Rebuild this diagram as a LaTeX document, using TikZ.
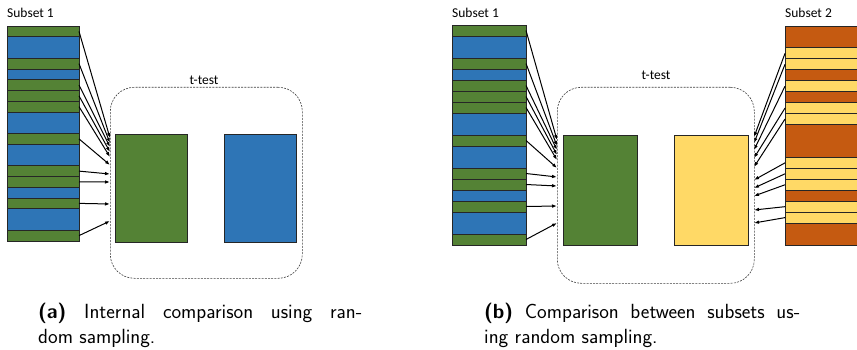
\documentclass[tikz,border=0pt]{standalone}
\usepackage{fontspec}
\usetikzlibrary{arrows.meta}
\newfontfamily\diagfont{Carlito}

\definecolor{bandgreen}{HTML}{548235}
\definecolor{bandblue}{HTML}{2E75B6}
\definecolor{bandorange}{HTML}{C55A11}
\definecolor{bandyellow}{HTML}{FFD966}
\definecolor{edge}{HTML}{262626}

\tikzset{
  band/.style={draw=edge, line width=0.8pt, inner sep=0pt, outer sep=0pt, anchor=north west},
  sample/.style={draw=edge, line width=1pt, inner sep=0pt, anchor=north west},
  ttest/.style={draw=black!75, dash pattern=on 2pt off 1.2pt, line width=0.6pt,
    rounded corners=24pt, inner sep=0pt, anchor=north west},
  pick/.style={-{Latex[length=5pt,width=3.6pt]}, line width=1pt},
  heading/.style={font=\diagfont\fontsize{13.5}{16}\selectfont, inner sep=0pt},
  subcap/.style={font=\sffamily\fontsize{20.5}{25}\selectfont, align=justify,
    inner sep=0pt, anchor=north west}
}

\begin{document}
\begin{tikzpicture}[x=1pt, y=-1pt]
  \useasboundingbox (0,0) rectangle (857,350);
  \clip (0,0) rectangle (857,350);

  % (a) one subset, split against itself
  \node[heading, anchor=base west] (suba) at (7,18) {Subset 1};
  \foreach \s/\n/\c in {0/1/bandgreen, 1/2/bandblue, 3/1/bandgreen, 4/1/bandblue,
      5/1/bandgreen, 6/1/bandgreen, 7/1/bandgreen, 8/2/bandblue, 10/1/bandgreen,
      11/2/bandblue, 13/1/bandgreen, 14/1/bandgreen, 15/1/bandblue, 16/1/bandgreen,
      17/2/bandblue, 19/1/bandgreen}
    \node[band, fill=\c, minimum width=72pt, minimum height=\n*10.75pt] (a\s) at (7,{26+\s*10.75}) {};

  \node[ttest, minimum width=192pt, minimum height=191pt] (boxa) at (110,87) {};
  \node[heading] (testa) at (204,80) {t-test};
  \node[sample, fill=bandgreen, minimum width=72pt, minimum height=108pt] (ga) at (115,134) {};
  \node[sample, fill=bandblue, minimum width=72pt, minimum height=108pt] (ba) at (224,134) {};

  \foreach \s/\y in {0/138, 3/143, 5/147, 6/152, 7/157, 10/165, 13/174, 14/182, 16/204, 19/221} {
    \coordinate (ea\s) at (110,\y);
    \draw[pick] (a\s.east) -- (ea\s);
  }

  \node[subcap, text width=324pt] (capa) at (38,302.5)
    {\textbf{(a)} Internal comparison using ran-\linebreak dom sampling.};

  % (b) two subsets against each other
  \node[heading, anchor=base west] (subb) at (452,18) {Subset 1};
  \foreach \s/\n/\c in {0/1/bandgreen, 1/2/bandblue, 3/1/bandgreen, 4/1/bandblue,
      5/1/bandgreen, 6/1/bandgreen, 7/1/bandgreen, 8/2/bandblue, 10/1/bandgreen,
      11/2/bandblue, 13/1/bandgreen, 14/1/bandgreen, 15/1/bandblue, 16/1/bandgreen,
      17/2/bandblue, 19/1/bandgreen}
    \node[band, fill=\c, minimum width=74pt, minimum height=\n*11pt] (b\s) at (452,{25+\s*11}) {};

  \node[heading, anchor=base west] (subc) at (785,18) {Subset 2};
  \foreach \s/\n/\c in {0/2/bandorange, 2/1/bandyellow, 3/1/bandyellow, 4/1/bandorange,
      5/1/bandyellow, 6/1/bandorange, 7/1/bandyellow, 8/1/bandyellow, 9/3/bandorange,
      12/1/bandyellow, 13/1/bandyellow, 14/1/bandyellow, 15/1/bandorange,
      16/1/bandyellow, 17/1/bandyellow, 18/2/bandorange}
    \node[band, fill=\c, minimum width=90pt, minimum height=\n*10.95pt] (c\s) at (785,{26+\s*10.95}) {};

  \node[ttest, minimum width=197pt, minimum height=196pt] (boxb) at (557,87) {};
  \node[heading] (testb) at (656,75) {t-test};
  \node[sample, fill=bandgreen, minimum width=74pt, minimum height=110pt] (gb) at (563,135) {};
  \node[sample, fill=bandyellow, minimum width=74pt, minimum height=110pt] (yb) at (674,135) {};

  \foreach \s/\y in {0/140, 3/146, 5/150, 6/155, 7/160, 10/168, 13/177, 14/186, 16/206, 19/223} {
    \coordinate (eb\s) at (557,\y);
    \draw[pick] (b\s.east) -- (eb\s);
  }
  \foreach \s/\y in {2/137, 3/143, 5/150, 7/158, 8/167, 12/180, 13/188, 14/196, 16/210, 17/223} {
    \coordinate (ec\s) at (754,\y);
    \draw[pick] (c\s.west) -- (ec\s);
  }

  \node[subcap, text width=316pt] (capb) at (484,302.5)
    {\textbf{(b)} Comparison between subsets us-\linebreak ing random sampling.};
\end{tikzpicture}
\end{document}
